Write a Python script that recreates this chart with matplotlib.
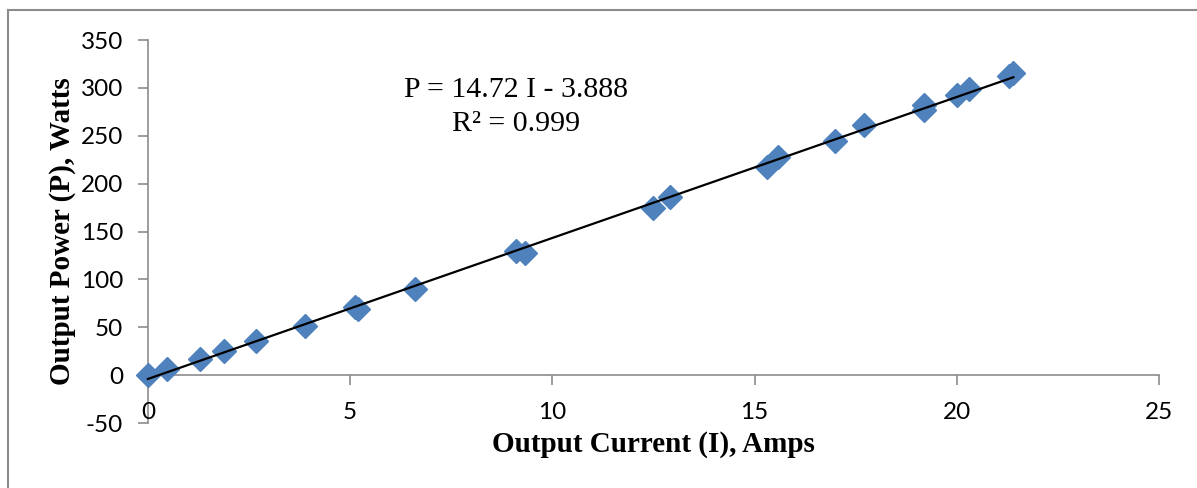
import matplotlib
matplotlib.use("Agg")
import matplotlib.pyplot as plt
from matplotlib.lines import Line2D

current_a = [0.0, 0.47, 1.29, 1.88, 2.67, 3.88, 5.12, 5.19, 6.6, 9.1, 9.32,
             12.49, 12.9, 15.3, 15.58, 16.99, 17.7, 19.2, 19.2, 20.0, 20.3,
             21.3, 21.4]
power_w = [0.0, 6.0, 16.7, 25.0, 35.5, 51.0, 71.0, 69.0, 90.0, 129.6, 127.5,
           174.5, 186.0, 217.0, 227.8, 244.5, 261.0, 282.0, 277.0, 292.6, 299.0,
           312.0, 315.5]

slope = 14.72
intercept = -3.888
fit_x = [0.0, 21.4]

x_ticks = [0, 5, 10, 15, 20, 25]
y_ticks = [-50, 0, 50, 100, 150, 200, 250, 300, 350]

tick_font = "Lato"
serif_font = "Liberation Serif"
plt.rcParams["axes.unicode_minus"] = False

fig = plt.figure(figsize=(11.97, 4.88), dpi=100)
ax = fig.add_axes([0.1236, 0.133, 0.8446, 0.785])

ax.plot(current_a, power_w, linestyle="none", marker="D", markersize=12.5,
        color="#4F81BD", markeredgecolor="#4F81BD", zorder=2, clip_on=False)
fit_y = [slope * v + intercept for v in fit_x]
ax.plot(fit_x, fit_y, color="black", linewidth=1.6, zorder=3, clip_on=False)

ax.set_xlim(0, 25)
ax.set_ylim(-50, 350)
ax.set_xticks(x_ticks)
ax.set_yticks(y_ticks)

for side in ("top", "right"):
    ax.spines[side].set_visible(False)
ax.spines["bottom"].set_position(("data", 0))
for side in ("left", "bottom"):
    ax.spines[side].set_color("#8C8C8C")
    ax.spines[side].set_linewidth(1.2)
    ax.spines[side].set_zorder(1)

ax.tick_params(axis="both", direction="out", length=7, width=1.2,
               color="#8C8C8C", labelsize=17.5)
ax.tick_params(axis="x", pad=12)
ax.tick_params(axis="y", pad=11)
for lab in ax.get_xticklabels() + ax.get_yticklabels():
    lab.set_fontfamily(tick_font)

ax.set_xlabel("Output Current (I), Amps", fontfamily=serif_font,
              fontweight="bold", fontsize=21, va="center")
ax.xaxis.set_label_coords(0.5, -0.057)
ax.set_ylabel("Output Power (P), Watts", fontfamily=serif_font,
              fontweight="bold", fontsize=21, va="center")
ax.yaxis.set_label_coords(-0.085, 0.5)

ax.text(9.1, 280, "P = 14.72 I - 3.888\nR² = 0.999", ha="center", va="center",
        fontfamily=serif_font, fontsize=21.5, linespacing=1.4)

# chart frame: only the left and top edges show in the reference
top = 1 - 9.5 / 488
left = 7.5 / 1197
fig.add_artist(Line2D([left, left], [0, top], transform=fig.transFigure,
                      color="#8C8C8C", linewidth=1.5))
fig.add_artist(Line2D([left, 1], [top, top], transform=fig.transFigure,
                      color="#8C8C8C", linewidth=1.5))

fig.savefig("out.png", dpi=100)
